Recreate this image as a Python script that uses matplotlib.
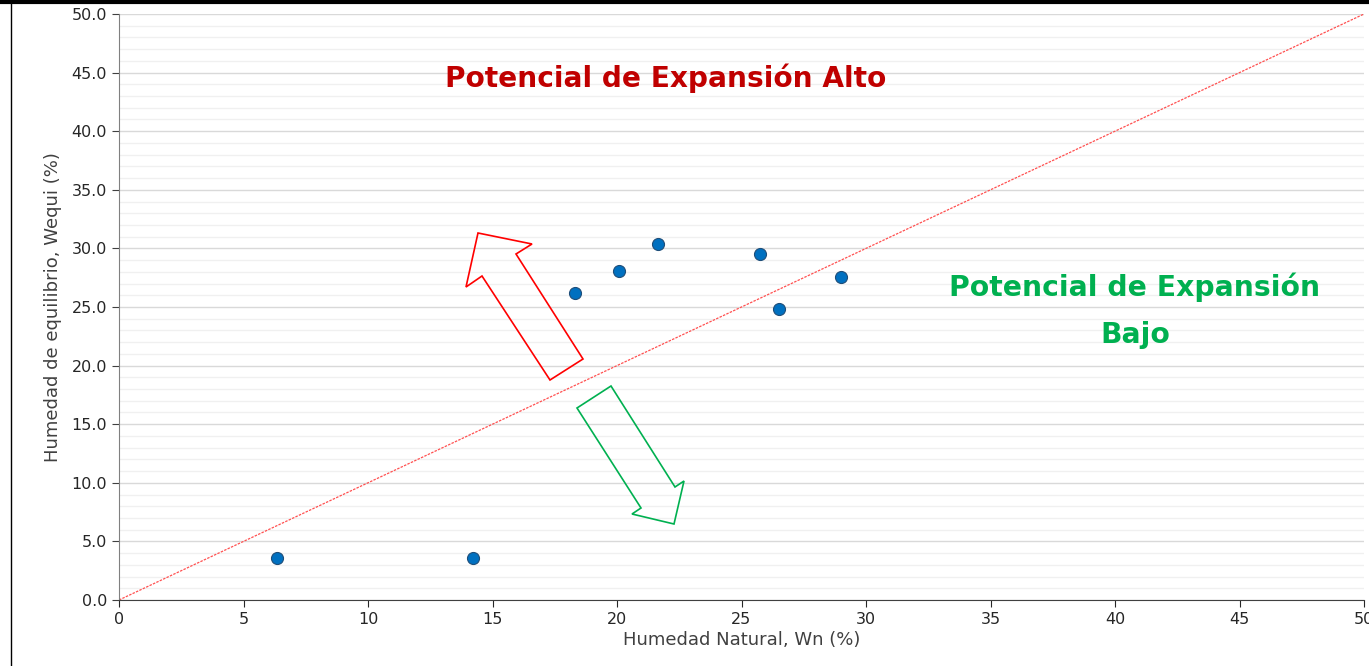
import numpy as np
import matplotlib.pyplot as plt
from matplotlib.patches import Polygon
from matplotlib.lines import Line2D
from matplotlib.ticker import MultipleLocator

# datos de humedad
wn = [6.35, 14.2, 18.3, 20.1, 21.65, 25.75, 26.5, 29.0]
wequi = [3.6, 3.6, 26.2, 28.1, 30.4, 29.5, 24.8, 27.6]
x_ticks = [0, 5, 10, 15, 20, 25, 30, 35, 40, 45, 50]
y_ticks = [0, 5, 10, 15, 20, 25, 30, 35, 40, 45, 50]

plt.rcParams['font.family'] = ['DejaVu Sans']

fig = plt.figure(figsize=(13.69, 6.66), dpi=100)
ax = fig.add_axes([119/1369, 1-600/666, (1364-119)/1369, (600-14)/666])

ax.set_xlim(0, 50)
ax.set_ylim(0, 50)
ax.yaxis.set_minor_locator(MultipleLocator(1))
ax.set_xticks(x_ticks)
ax.set_yticks(y_ticks)
ax.set_yticklabels(['%.1f' % v for v in y_ticks])
ax.grid(axis='y', which='major', color='#d9d9d9', lw=1)
ax.grid(axis='y', which='minor', color='#f0f0f0', lw=1)
ax.set_axisbelow(True)

# linea 1:1
ax.plot([0, 50], [0, 50], color='#ff5050', lw=0.9, ls=(0, (2, 1)), zorder=2)

ax.scatter(wn, wequi, s=75, color='#0070c0', edgecolor='#1f4e79', linewidth=0.8, zorder=4)

for s in ['top', 'right']:
    ax.spines[s].set_visible(False)
ax.spines['left'].set_color('#808080')
ax.spines['bottom'].set_color('#404040')
ax.tick_params(which='major', direction='out', length=5, labelsize=11.5, colors='#262626')
ax.tick_params(which='minor', length=0)
ax.tick_params(axis='y', color='#404040')

ax.set_xlabel('Humedad Natural, Wn (%)', fontsize=13, color='#404040', labelpad=3)
ax.set_ylabel('Humedad de equilibrio, Wequi (%)', fontsize=13, color='#404040', labelpad=7)

# flechas (coordenadas en pixeles de la figura)
def px(pts):
    return [(x/1369, 1 - y/666) for x, y in pts]

red_arrow = [(478, 233), (532, 244), (516, 254), (583, 359), (550, 380), (482, 276), (466, 287)]
green_arrow = [(577, 408), (611, 386), (675, 487), (684, 481), (674, 524), (632, 514), (641, 508)]
fig.add_artist(Polygon(px(red_arrow), closed=True, fill=False, edgecolor='#ff0000', lw=1.2, transform=fig.transFigure))
fig.add_artist(Polygon(px(green_arrow), closed=True, fill=False, edgecolor='#00b050', lw=1.2, transform=fig.transFigure))

fig.text(666/1369, 1-78/666, 'Potencial de Expansión Alto', fontsize=20.2, fontweight='bold',
         color='#c00000', ha='center', va='center')
fig.text(1135/1369, 1-287/666, 'Potencial de Expansión', fontsize=20.3, fontweight='bold',
         color='#00b050', ha='center', va='center')
fig.text(1135/1369, 1-335/666, 'Bajo', fontsize=20.3, fontweight='bold',
         color='#00b050', ha='center', va='center')

# borde del grafico
fig.add_artist(Line2D([0, 1], [1-1.5/666, 1-1.5/666], color='black', lw=3, transform=fig.transFigure))
fig.add_artist(Line2D([10.5/1369, 10.5/1369], [0, 1], color='black', lw=1, transform=fig.transFigure))

plt.savefig('out.png', dpi=100)
